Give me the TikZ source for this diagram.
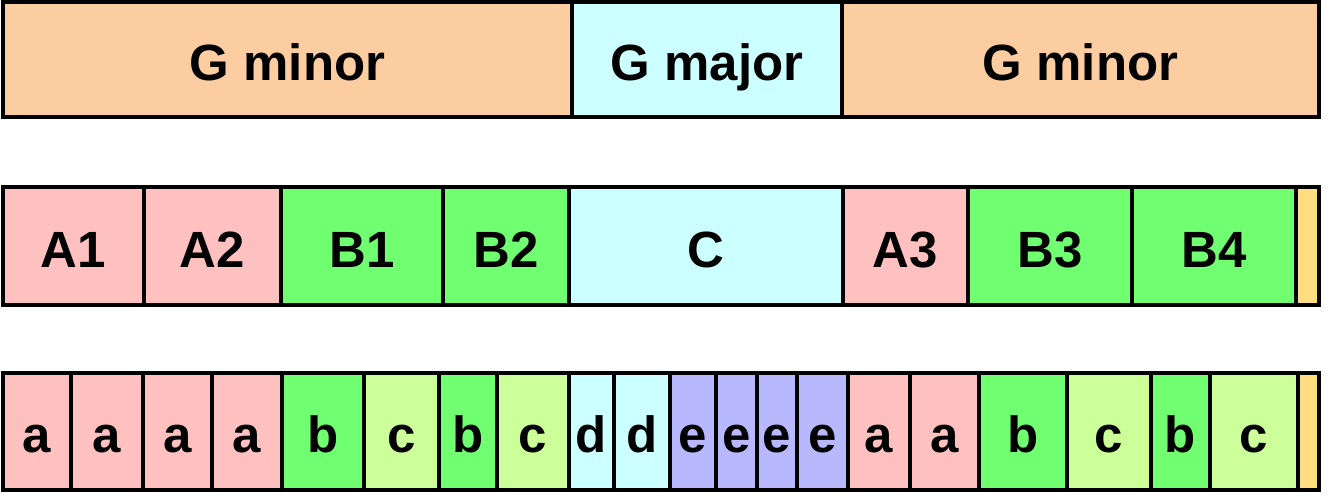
\documentclass[tikz,border=0pt]{standalone}
\usepackage{fontspec}
\setmainfont{Liberation Sans}
\usepackage{tikz}
\definecolor{peach}{RGB}{252,205,160}
\definecolor{paleblue}{RGB}{204,255,255}
\definecolor{rose}{RGB}{255,192,192}
\definecolor{green}{RGB}{112,255,112}
\definecolor{lime}{RGB}{204,255,153}
\definecolor{lavender}{RGB}{184,184,255}
\definecolor{gold}{RGB}{255,221,128}

\begin{document}
\begin{tikzpicture}[cell/.style={draw=black, line width=0.9pt},
                    lbl/.style={font=\fontsize{14.5}{16}\selectfont\bfseries, text height=0.42cm, text depth=0pt}]
                \useasboundingbox (0,0) rectangle (13.31,4.98);
                % keys
                \draw[cell, fill=peach] (0.03,3.81) rectangle (5.72,4.96) node[midway, lbl] (gmin1) {G minor};
                \draw[cell, fill=paleblue] (5.72,3.81) rectangle (8.42,4.96) node[midway, lbl] (gmaj) {G major};
                \draw[cell, fill=peach] (8.42,3.81) rectangle (13.19,4.96) node[midway, lbl] (gmin2) {G minor};

                % sections
                \draw[cell, fill=rose] (0.03,1.93) rectangle (1.44,3.11) node[midway, lbl] (A1) {A1};
                \draw[cell, fill=rose] (1.44,1.93) rectangle (2.81,3.11) node[midway, lbl] (A2) {A2};
                \draw[cell, fill=green] (2.81,1.93) rectangle (4.43,3.11) node[midway, lbl] (B1) {B1};
                \draw[cell, fill=green] (4.43,1.93) rectangle (5.69,3.11) node[midway, lbl] (B2) {B2};
                \draw[cell, fill=paleblue] (5.69,1.93) rectangle (8.43,3.11) node[midway, lbl] (C) {C};
                \draw[cell, fill=rose] (8.43,1.93) rectangle (9.68,3.11) node[midway, lbl] (A3) {A3};
                \draw[cell, fill=green] (9.68,1.93) rectangle (11.32,3.11) node[midway, lbl] (B3) {B3};
                \draw[cell, fill=green] (11.32,1.93) rectangle (12.96,3.11) node[midway, lbl] (B4) {B4};
                \draw[cell, fill=gold] (12.96,1.93) rectangle (13.19,3.11) node[midway] (endmid) {};

                % phrases
                \draw[cell, fill=rose] (0.03,0.08) rectangle (0.71,1.25) node[midway, lbl] (a1) {a};
                \draw[cell, fill=rose] (0.71,0.08) rectangle (1.43,1.25) node[midway, lbl] (a2) {a};
                \draw[cell, fill=rose] (1.43,0.08) rectangle (2.12,1.25) node[midway, lbl] (a3) {a};
                \draw[cell, fill=rose] (2.12,0.08) rectangle (2.82,1.25) node[midway, lbl] (a4) {a};
                \draw[cell, fill=green] (2.82,0.08) rectangle (3.64,1.25) node[midway, lbl] (b1) {b};
                \draw[cell, fill=lime] (3.64,0.08) rectangle (4.39,1.25) node[midway, lbl] (c1) {c};
                \draw[cell, fill=green] (4.39,0.08) rectangle (4.97,1.25) node[midway, lbl] (b2) {b};
                \draw[cell, fill=lime] (4.97,0.08) rectangle (5.69,1.25) node[midway, lbl] (c2) {c};
                \draw[cell, fill=paleblue] (5.69,0.08) rectangle (6.14,1.25) node[midway, lbl] (d1) {d};
                \draw[cell, fill=paleblue] (6.14,0.08) rectangle (6.70,1.25) node[midway, lbl] (d2) {d};
                \draw[cell, fill=lavender] (6.70,0.08) rectangle (7.16,1.25) node[midway, lbl] (e1) {e};
                \draw[cell, fill=lavender] (7.16,0.08) rectangle (7.57,1.25) node[midway, lbl] (e2) {e};
                \draw[cell, fill=lavender] (7.57,0.08) rectangle (7.97,1.25) node[midway, lbl] (e3) {e};
                \draw[cell, fill=lavender] (7.97,0.08) rectangle (8.48,1.25) node[midway, lbl] (e4) {e};
                \draw[cell, fill=rose] (8.48,0.08) rectangle (9.10,1.25) node[midway, lbl] (a5) {a};
                \draw[cell, fill=rose] (9.10,0.08) rectangle (9.79,1.25) node[midway, lbl] (a6) {a};
                \draw[cell, fill=green] (9.79,0.08) rectangle (10.67,1.25) node[midway, lbl] (b3) {b};
                \draw[cell, fill=lime] (10.67,0.08) rectangle (11.51,1.25) node[midway, lbl] (c3) {c};
                \draw[cell, fill=green] (11.51,0.08) rectangle (12.10,1.25) node[midway, lbl] (b4) {b};
                \draw[cell, fill=lime] (12.10,0.08) rectangle (12.98,1.25) node[midway, lbl] (c4) {c};
                \draw[cell, fill=gold] (12.98,0.08) rectangle (13.19,1.25) node[midway] (endlow) {};
            \end{tikzpicture}
\end{document}
